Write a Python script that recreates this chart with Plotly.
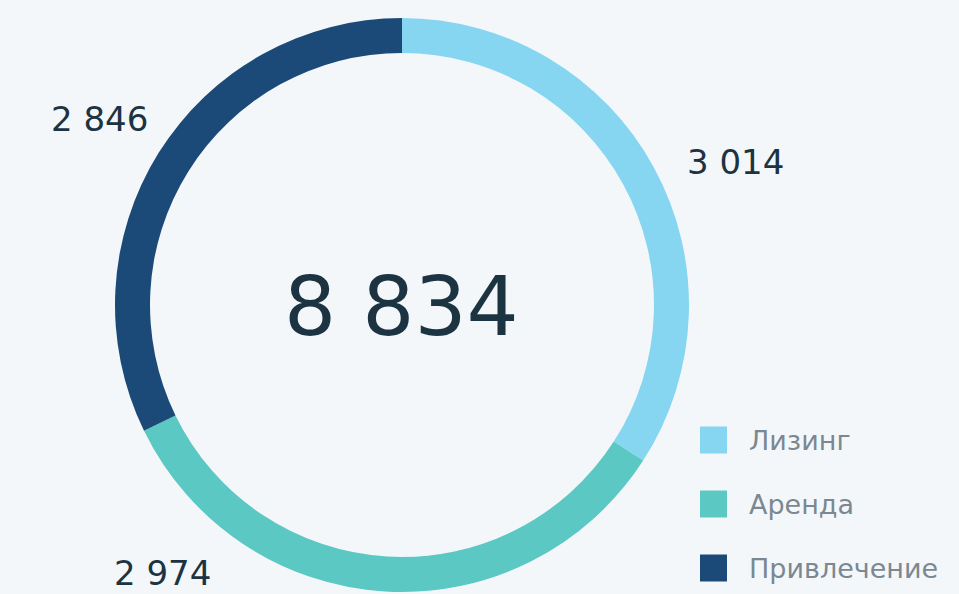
import plotly.graph_objects as go

# Portfolio structure
categories = ["Лизинг", "Аренда", "Привлечение"]
values = [3014, 2974, 2846]
value_labels = ["3 014", "2 974", "2 846"]
total_label = "8 834"

colors = ["#86d6f1", "#5cc8c4", "#1b4a78"]
text_color = "#1c3342"
legend_color = "#7b8891"
bg = "#f4f7fa"

W, H = 959, 594

fig = go.Figure(
    go.Pie(
        labels=categories,
        values=values,
        hole=0.878,
        sort=False,
        direction="clockwise",
        rotation=0,
        marker=dict(colors=colors, line=dict(width=0)),
        textinfo="none",
        hoverinfo="label+value",
        showlegend=False,
        domain=dict(x=[115 / W, 689 / W], y=[1 - 592 / H, 1 - 18 / H]),
    )
)

def px(x, y):
    return x / W, 1 - y / H

# centre total
cx, cy = px(401, 306)
fig.add_annotation(x=cx, y=cy, xref="paper", yref="paper", text=total_label,
                   showarrow=False, font=dict(family="DejaVu Sans", size=82, color=text_color),
                   xanchor="center", yanchor="middle")

# slice value labels
label_pos = [(735, 162), (162, 573), (99, 119)]
for txt, (lx, ly) in zip(value_labels, label_pos):
    ax, ay = px(lx, ly)
    fig.add_annotation(x=ax, y=ay, xref="paper", yref="paper", text=txt,
                       showarrow=False, font=dict(family="DejaVu Sans", size=34, color=text_color),
                       xanchor="center", yanchor="middle")

# legend
row_y = [440, 504, 568]
for name, col, ry in zip(categories, colors, row_y):
    x0, y0 = px(700, ry - 13.5)
    x1, y1 = px(727, ry + 13.5)
    fig.add_shape(type="rect", xref="paper", yref="paper", x0=x0, x1=x1, y0=y1, y1=y0,
                  fillcolor=col, line=dict(width=0))
    tx, ty = px(747, ry)
    fig.add_annotation(x=tx, y=ty, xref="paper", yref="paper", text=name,
                       showarrow=False, font=dict(family="DejaVu Sans", size=27, color=legend_color),
                       xanchor="left", yanchor="middle")

fig.update_layout(
    width=W, height=H,
    margin=dict(l=0, r=0, t=0, b=0),
    paper_bgcolor=bg, plot_bgcolor=bg,
)

fig.write_html("out.html")
